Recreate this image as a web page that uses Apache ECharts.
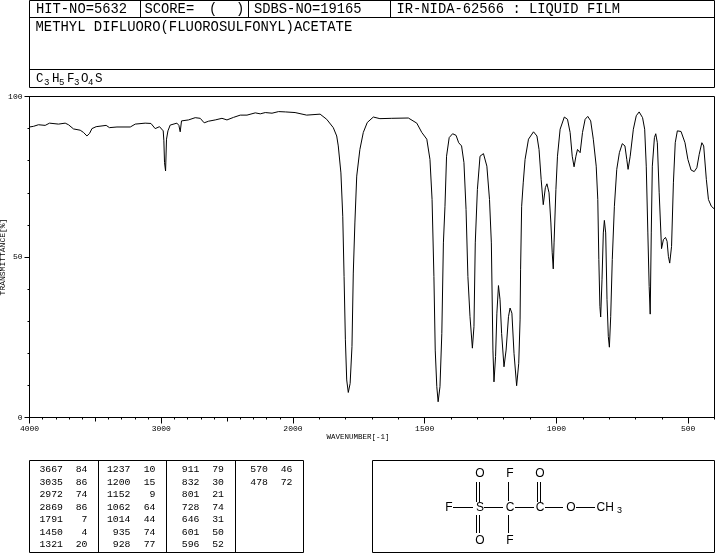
<!DOCTYPE html>
<html><head><meta charset="utf-8">
<style>html,body{margin:0;padding:0;background:#fff}#c{width:715px;height:553px}</style>
<script src="https://cdn.jsdelivr.net/npm/echarts@6/dist/echarts.min.js"></script>
</head><body><div id="c"></div>
<script>
const wavenumbers=[4000,3970,3932,3881,3848,3780,3729,3704,3666,3615,3590,3564,3544,3526,3494,3418,3393,3336,3235,3197,3122,3109,3078,3046,3033,3013,2998,2985,2980,2975,2967,2960,2949,2932,2881,2866,2856,2846,2793,2742,2704,2674,2641,2590,2539,2501,2451,2400,2349,2286,2248,2210,2159,2109,2058,1992,1948,1897,1872,1847,1834,1828,1818,1811,1806,1801,1796,1790,1783,1776,1771,1765,1758,1746,1733,1718,1695,1670,1625,1562,1530,1511,1492,1480,1472,1465,1460,1454,1449,1442,1435,1429,1423,1417,1407,1394,1381,1371,1360,1351,1343,1336,1328,1319,1313,1308,1300,1290,1277,1264,1254,1247,1241,1237,1231,1226,1220,1214,1208,1199,1191,1182,1176,1169,1161,1151,1143,1138,1136,1132,1126,1119,1106,1087,1074,1066,1058,1050,1042,1036,1028,1021,1016,1012,1009,1002,996,986,970,958,948,940,933,926,920,910,901,891,881,870,860,849,843,839,835,832,827,822,818,813,808,803,799,794,788,780,771,761,750,740,733,728,720,708,697,686,673,665,659,653,648,644,640,636,628,623,617,610,601,594,586,580,575,570,563,556,549,541,527,512,501,489,477,467,458,448,441,431,423,412,401];
const transmittance=[90.5,90.7,91.2,91,91.7,91.4,91.7,91.2,89.9,89.5,88.8,87.7,88.5,90,90.6,91,90.3,90.5,90.5,91.4,91.7,91.2,91.6,90,89.4,90.6,91,89.3,86.2,79.4,76.8,86.7,89.3,91.1,91.7,91,89,92.4,92.7,93.4,93.2,91.8,92.3,92.7,93.2,92.7,93.5,94.2,94.2,94.9,94.6,95,94.8,95.3,95.2,95,94.2,94.5,92.9,90.3,87.7,84.6,76.2,62.7,43.9,24.2,11.7,7.8,10.6,22.1,45,60.6,75.2,83.5,88.8,91.9,93.6,93.1,93.2,93.3,91.7,88.8,86.7,80.4,67.9,43.9,21,9.6,4.9,9.6,26.2,54.4,65.8,81.4,87.2,88.4,87.9,85.6,84.6,79.4,64.8,43.9,31.4,21.6,28.3,54.4,71,81.4,82.2,78.3,67.9,54.4,21,11.1,19,32.5,41.1,36.7,26.2,15.8,21,31.4,34.1,32.5,20,9.9,16.9,30.4,46,65.8,73.1,80.4,86.7,89,87.7,83.5,74.2,66.3,71.6,72.8,70,60.6,51.3,46.3,54.4,71,81.4,89.8,93.6,92.9,88.8,81.4,78.1,81.4,83.5,82.5,88.8,92.9,93.8,92.4,86.7,78.3,67.9,49.2,34.6,31.3,42.9,57.5,61.4,57.5,36.7,25.2,21.9,31.4,49.2,65.8,77.3,82.5,85.3,84.6,80.4,77.3,81.4,89.8,94,95.2,93.4,89.8,78.3,57.5,40.8,32.2,57.5,78.3,87.2,88.4,85.6,70,52.6,55.4,56.1,54.9,50.2,48.1,53.3,73.1,85.6,89.3,89.1,85.6,80.4,77.1,76.6,77.8,82,85.6,84.6,74.2,67.9,65.8,65];
const xTickLabels=[4000,3000,2000,1500,1000,500];
const xMidTicks=[3500,2500];
const yTickLabels=[0,50,100];
const peakWave=[[3667,3035,2972,2869,1791,1450,1321],[1237,1200,1152,1062,1014,935,928],[911,832,801,728,646,601,596],[570,478]];
const peakT=[[84,86,74,86,7,4,20],[10,15,9,64,44,74,77],[79,30,21,74,31,50,52],[46,72]];
const title='METHYL DIFLUORO(FLUOROSULFONYL)ACETATE';
const headers=['HIT-NO=5632','SCORE=','SDBS-NO=19165','IR-NIDA-62566 : LIQUID FILM'];

// Wavenumber axis has a scale change at 2000: below it each unit takes twice the width.
const toU=w=>w>=2000?4000-w:2000+(2000-w)*2;
const toW=u=>u<=2000?4000-u:2000-(u-2000)/2;
const minorW=[];for(let w=3900;w>=400;w-=100)minorW.push(w);
const minorY=[];for(let v=0;v<=100;v+=10)minorY.push(v);

const MONO='"Liberation Mono","DejaVu Sans Mono",monospace';
const SANS='"Liberation Sans",sans-serif';
const g=[];
const line=(x1,y1,x2,y2)=>g.push({type:'line',silent:true,shape:{x1,y1,x2,y2},style:{stroke:'#000',lineWidth:1}});
const rect=(x,y,w,h)=>g.push({type:'rect',silent:true,shape:{x,y,width:w,height:h},style:{fill:'none',stroke:'#000',lineWidth:1}});
const text=(s,x,y,size,font,align)=>g.push({type:'text',silent:true,x,y,style:{text:s,fontSize:size,fontFamily:font||MONO,fill:'#000',align:align||'left',verticalAlign:'middle'}});

// Header
rect(29.5,0.5,685,87);
line(29,17.5,715,17.5);line(29,69.5,715,69.5);
[140.5,248.5,390.5].forEach(x=>line(x,0,x,18));
text(headers[0],36,9,13.8);
text(headers[1],144.5,9,13.8);
text('(',209,9,13.8);text(')',236,9,13.8);
text(headers[2],254,9,13.8);
text(headers[3],396.5,9,13.8);
text(title,35.5,27,13.9);
[['C',36,0],['3',44,1],['H',52,0],['5',59,1],['F',67,0],['3',74,1],['O',81,0],['4',88,1],['S',95,0]]
 .forEach(([s,x,sub])=>text(s,x,sub?83:79,sub?9:12.5));

// Peak table
rect(29.5,460.5,274,92);
[98.5,166.5,235.5].forEach(x=>line(x,460,x,552));
const rowY=[469.5,482,494.5,507,519.5,532,544.5];
const waveR=[63,130.5,199.5,268],valR=[87.5,155.5,224,292.5];
peakWave.forEach((col,c)=>col.forEach((w,r)=>{
  text(String(w),waveR[c],rowY[r],9.8,MONO,'right');
  text(String(peakT[c][r]),valR[c],rowY[r],9.8,MONO,'right');
}));

// Structure
rect(372.5,460.5,342,92);
[['O',480,474],['F',510,474],['O',540,474],['F',449,507.5],['S',480,507.5],['C',510,507.5],['C',540,507.5],['O',571,507.5],['O',480,541],['F',510,541]]
 .forEach(([s,x,y])=>text(s,x,y,12,SANS,'center'));
text('CH',596.5,507.5,12,SANS);
text('3',617,511,9,SANS);
[[476.5,482,476.5,502],[479.5,482,479.5,502],[476.5,515,476.5,533],[479.5,515,479.5,533],
 [508.5,482,508.5,501],[508.5,515,508.5,533],[537.5,482,537.5,502],[540.5,482,540.5,502],
 [453,507.5,473,507.5],[484,507.5,503,507.5],[515,507.5,534,507.5],[545,507.5,563,507.5],[576,507.5,595,507.5]]
 .forEach(a=>line(...a));

const hiddenX=(vals,len)=>({type:'value',min:0,max:5200,gridIndex:0,position:'bottom',
  axisLine:{show:false},splitLine:{show:false},axisLabel:{show:false},
  axisTick:{show:true,length:len,lineStyle:{color:'#000'},customValues:vals.map(toU)}});
const chart=echarts.init(document.getElementById('c'),null,{renderer:'canvas'});
chart.setOption({
  animation:false,backgroundColor:'#fff',
  grid:{left:29.5,right:0.5,top:96.5,bottom:135.5,outerBoundsMode:'none',containLabel:false,show:true,borderColor:'#000',borderWidth:1,backgroundColor:'transparent'},
  xAxis:[
    {type:'value',min:0,max:5200,position:'bottom',
     name:'WAVENUMBER[-1]',nameLocation:'middle',nameGap:16,nameMoveOverlap:false,
     nameTextStyle:{fontFamily:MONO,fontSize:7.5,color:'#000',padding:[0,28,0,0]},
     axisLine:{show:true,lineStyle:{color:'#000'}},splitLine:{show:false},
     axisTick:{show:true,length:6,lineStyle:{color:'#000'},customValues:xTickLabels.map(toU)},
     axisLabel:{show:true,customValues:xTickLabels.map(toU),formatter:u=>String(toW(u)),
       color:'#000',fontFamily:MONO,fontSize:8,margin:7,hideOverlap:false}},
    hiddenX(xMidTicks,4),
    hiddenX(minorW,2)
  ],
  yAxis:[
    {type:'value',min:0,max:100,position:'left',
     name:'TRANSMITTANCE[%]',nameLocation:'middle',nameGap:23,nameRotate:90,nameMoveOverlap:false,
     nameTextStyle:{fontFamily:MONO,fontSize:8,color:'#000'},
     axisLine:{show:true,lineStyle:{color:'#000'}},splitLine:{show:false},
     axisTick:{show:true,length:5,lineStyle:{color:'#000'},customValues:yTickLabels},
     axisLabel:{show:true,customValues:yTickLabels,color:'#000',fontFamily:MONO,fontSize:8,margin:7}},
    {type:'value',min:0,max:100,position:'left',
     axisLine:{show:false},splitLine:{show:false},axisLabel:{show:false},
     axisTick:{show:true,length:2,lineStyle:{color:'#000'},customValues:minorY}}
  ],
  series:[{type:'line',xAxisIndex:0,yAxisIndex:0,symbol:'none',smooth:false,silent:true,
    lineStyle:{color:'#000',width:1},
    data:wavenumbers.map((w,i)=>[toU(w),transmittance[i]])}],
  graphic:g
});
</script></body></html>
